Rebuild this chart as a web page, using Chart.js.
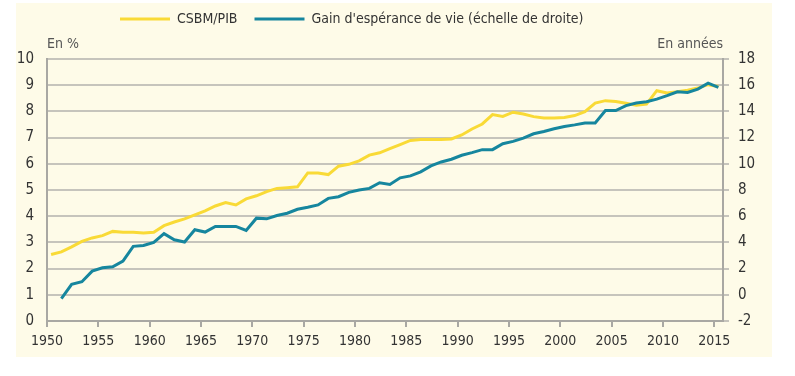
<!DOCTYPE html>
<html>
<head>
<meta charset="utf-8">
<script src="https://cdn.jsdelivr.net/npm/chart.js@4.4.1/dist/chart.umd.min.js"></script>
<style>
  html, body { margin: 0; padding: 0; background: #fff; }
  #wrap { position: relative; width: 795px; height: 376px; }
  #panel { position: absolute; left: 16px; top: 3px; width: 756px; height: 354px; background: #fefbe8; }
  #chart { position: absolute; left: 0; top: 0; }
</style>
</head>
<body>
<div id="wrap">
  <div id="panel"></div>
  <canvas id="chart" width="795" height="376"></canvas>
</div>
<script>
'use strict'

/* global Chart */

const years = [
  1950, 1951, 1952, 1953, 1954, 1955, 1956, 1957, 1958, 1959,
  1960, 1961, 1962, 1963, 1964, 1965, 1966, 1967, 1968, 1969,
  1970, 1971, 1972, 1973, 1974, 1975, 1976, 1977, 1978, 1979,
  1980, 1981, 1982, 1983, 1984, 1985, 1986, 1987, 1988, 1989,
  1990, 1991, 1992, 1993, 1994, 1995, 1996, 1997, 1998, 1999,
  2000, 2001, 2002, 2003, 2004, 2005, 2006, 2007, 2008, 2009,
  2010, 2011, 2012, 2013, 2014, 2015
]

// CSBM / PIB, en %
const csbmPib = [
  2.54, 2.64, 2.83, 3.04, 3.17, 3.26, 3.42, 3.39, 3.39, 3.36,
  3.39, 3.64, 3.78, 3.90, 4.05, 4.20, 4.39, 4.52, 4.43, 4.66,
  4.78, 4.94, 5.06, 5.09, 5.12, 5.65, 5.65, 5.59, 5.91, 5.98,
  6.11, 6.33, 6.42, 6.58, 6.73, 6.89, 6.93, 6.93, 6.93, 6.95,
  7.10, 7.33, 7.52, 7.88, 7.81, 7.97, 7.90, 7.80, 7.75, 7.75,
  7.77, 7.84, 7.99, 8.32, 8.41, 8.38, 8.31, 8.24, 8.28, 8.79,
  8.70, 8.75, 8.81, 8.89, 9.02, 8.95
]

// gain d'esperance de vie, en annees (echelle de droite)
const gainEsperance = [
  null, -0.29, 0.80, 1.00, 1.81, 2.06, 2.14, 2.57, 3.70, 3.76,
  4.00, 4.67, 4.20, 4.03, 4.97, 4.79, 5.22, 5.22, 5.22, 4.92,
  5.85, 5.80, 6.05, 6.23, 6.53, 6.68, 6.86, 7.36, 7.49, 7.82,
  8.00, 8.12, 8.55, 8.42, 8.93, 9.08, 9.39, 9.84, 10.14, 10.35,
  10.65, 10.85, 11.08, 11.08, 11.53, 11.71, 11.96, 12.29, 12.47, 12.67,
  12.85, 12.97, 13.12, 13.12, 14.06, 14.06, 14.44, 14.64, 14.74, 14.94,
  15.20, 15.50, 15.45, 15.70, 16.15, 15.83
]

const xTickYears = [1950, 1955, 1960, 1965, 1970, 1975, 1980, 1985, 1990, 1995, 2000, 2005, 2010, 2015]

const FONT = "'Liberation Sans Narrow', 'Arial Narrow', 'DejaVu Sans Condensed', sans-serif"
const GRID = '#c6c4bc'
const AXIS = '#a9a8a3'
const TEXT = '#333333'

// points sit a bit after the tick of their year, as in the source figure
const yearShift = 0.4

function toPoints (values) {
  return years.map((yr, i) => ({ x: yr + yearShift, y: values[i] }))
}

const extras = {
  id: 'extras',
  afterLayout (chart) {
    const lg = chart.legend
    lg.left = 103
    lg.top = -5
  },
  afterDraw (chart) {
    const { ctx, chartArea } = chart
    ctx.save()
    ctx.font = '14px ' + FONT
    ctx.fillStyle = '#555555'
    ctx.textBaseline = 'middle'
    ctx.textAlign = 'left'
    ctx.fillText('En %', chartArea.left, 44)
    ctx.textAlign = 'right'
    ctx.fillText('En années', chartArea.right, 44)
    ctx.restore()
  }
}

const chart = new Chart(document.getElementById('chart'), {
  type: 'line',
  data: {
    datasets: [{
      label: 'CSBM/PIB',
      data: toPoints(csbmPib),
      borderColor: '#f9da36',
      backgroundColor: '#f9da36',
      borderWidth: 3,
      pointRadius: 0,
      tension: 0,
      yAxisID: 'yLeft',
      order: 1
    }, {
      label: "Gain d'espérance de vie (échelle de droite)",
      data: toPoints(gainEsperance),
      borderColor: '#16869e',
      backgroundColor: '#16869e',
      borderWidth: 3,
      pointRadius: 0,
      tension: 0,
      yAxisID: 'yRight',
      order: 0
    }]
  },
  options: {
    responsive: false,
    devicePixelRatio: 1,
    animation: false,
    layout: { padding: { top: 18, left: 0, right: 0, bottom: 0 } },
    plugins: {
      tooltip: { enabled: false },
      legend: {
        position: 'top',
        align: 'start',
        labels: {
          usePointStyle: true,
          pointStyle: 'line',
          pointStyleWidth: 50,
          padding: 17,
          color: TEXT,
          font: { family: FONT, size: 14 },
          sort: (a, b) => a.datasetIndex - b.datasetIndex
        }
      }
    },
    scales: {
      x: {
        type: 'linear',
        min: 1950,
        max: 2015.85,
        afterBuildTicks: (scale) => { scale.ticks = xTickYears.map(v => ({ value: v })) },
        afterFit: (scale) => { scale.height = 55 },
        grid: { drawOnChartArea: false, drawTicks: true, tickLength: 6, color: AXIS, lineWidth: 2 },
        border: { color: AXIS, width: 2 },
        ticks: {
          color: TEXT,
          padding: 6,
          maxRotation: 0,
          font: { family: FONT, size: 14 },
          callback: v => String(v)
        }
      },
      yLeft: {
        type: 'linear',
        position: 'left',
        min: 0,
        max: 10,
        afterFit: (scale) => { scale.width = 47 },
        grid: { color: GRID, lineWidth: 2, drawTicks: false },
        border: { color: AXIS, width: 2 },
        ticks: { stepSize: 1, padding: 13, color: TEXT, font: { family: FONT, size: 15 } }
      },
      yRight: {
        type: 'linear',
        position: 'right',
        min: -2,
        max: 18,
        afterFit: (scale) => { scale.width = 72 },
        grid: { drawOnChartArea: false, tickLength: 6, color: GRID, lineWidth: 2 },
        border: { color: AXIS, width: 2 },
        ticks: { stepSize: 2, padding: 9, color: TEXT, font: { family: FONT, size: 15 } }
      }
    }
  },
  plugins: [extras]
})
</script>
</body>
</html>
